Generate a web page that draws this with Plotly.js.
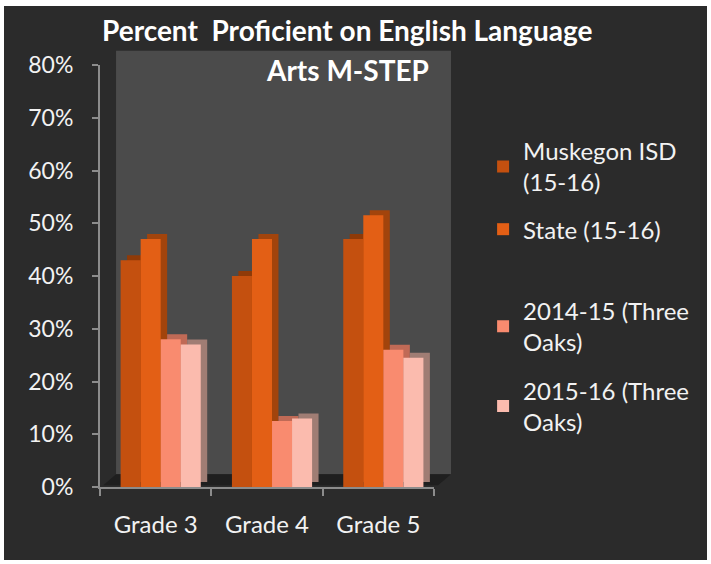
<!DOCTYPE html>
<html>
<head>
<meta charset="utf-8">
<script src="https://cdn.plot.ly/plotly-3.0.1.min.js"></script>
<style>
  html, body { margin: 0; padding: 0; background: #ffffff; }
  #chart { position: absolute; left: 4px; top: 6px; width: 703px; height: 554px; }
</style>
</head>
<body>
<div id="chart"></div>
<script>
// ---- data ----
const categories = ["Grade 3", "Grade 4", "Grade 5"];
const seriesNames = ["Muskegon ISD<br>(15-16)", "State (15-16)", "2014-15 (Three<br>Oaks)", "2015-16 (Three<br>Oaks)"];
const muskegon = [0.43, 0.40, 0.47];
const state = [0.47, 0.47, 0.515];
const threeOaks1415 = [0.28, 0.125, 0.26];
const threeOaks1516 = [0.27, 0.13, 0.245];
const yTickVals = [0, 0.1, 0.2, 0.3, 0.4, 0.5, 0.6, 0.7, 0.8];
const yTickText = ["0%", "10%", "20%", "30%", "40%", "50%", "60%", "70%", "80%"];

// ---- styling ----
const seriesValues = [muskegon, state, threeOaks1415, threeOaks1516];
const frontColors = ["#C4500F", "#E35F15", "#F98B6F", "#FBBBAE"];
const sideColors = ["#8F3A08", "#A2440C", "#C06A56", "#A07D74"];
const legendIds = ["legend", "legend2", "legend3", "legend4"];
const barWidth = 0.18;
const firstOffset = -0.315;
const depthDx = 0.058;   // in category units
const depthDy = 0.0095;  // in value units
const FONT = "Lato, 'Open Sans', sans-serif";

const traces = [];
// depth (side/top) faces drawn behind
seriesValues.forEach((vals, i) => {
  traces.push({
    type: "bar", x: categories, y: vals,
    base: vals.map(() => depthDy),
    offset: firstOffset + i * barWidth + depthDx, width: barWidth,
    marker: { color: sideColors[i], line: { width: 0 } },
    showlegend: false, hoverinfo: "skip"
  });
});
// front faces
seriesValues.forEach((vals, i) => {
  traces.push({
    type: "bar", x: categories, y: vals, name: seriesNames[i],
    offset: firstOffset + i * barWidth, width: barWidth,
    marker: { color: frontColors[i], line: { width: 0 } },
    legend: legendIds[i]
  });
});

const legendFont = { family: FONT, size: 24, color: "#F2F2F2" };
const legendYs = [0.759, 0.610, 0.380, 0.191];
const legendBase = { x: 1.147, xanchor: "left", yanchor: "middle", bgcolor: "rgba(0,0,0,0)", font: legendFont, itemwidth: 30 };

const layout = {
  width: 703, height: 554,
  paper_bgcolor: "#2B2B2B", plot_bgcolor: "#2B2B2B",
  margin: { l: 96, r: 273, t: 58.5, b: 73.3, pad: 0 },
  barmode: "overlay",
  showlegend: true,
  legend: Object.assign({}, legendBase, { y: legendYs[0] }),
  legend2: Object.assign({}, legendBase, { y: legendYs[1] }),
  legend3: Object.assign({}, legendBase, { y: legendYs[2] }),
  legend4: Object.assign({}, legendBase, { y: legendYs[3] }),
  xaxis: {
    type: "category", range: [-0.5, 2.5],
    showline: true, linecolor: "#8C8C8C", linewidth: 2,
    ticks: "outside", tickson: "boundaries", ticklen: 7, tickcolor: "#8C8C8C", tickwidth: 2,
    showgrid: false, zeroline: false,
    tickfont: { family: FONT, size: 24, color: "#F2F2F2" },
    ticklabelstandoff: 15
  },
  yaxis: {
    range: [0, 0.8], tickvals: yTickVals, ticktext: yTickText,
    showline: true, linecolor: "#8C8C8C", linewidth: 2,
    ticks: "outside", ticklen: 6, tickcolor: "#8C8C8C", tickwidth: 2,
    showgrid: false, zeroline: false,
    tickfont: { family: FONT, size: 23, color: "#F2F2F2" },
    ticklabelstandoff: 14
  },
  shapes: [
    { type: "rect", layer: "below", xref: "x domain", yref: "y domain",
      x0: 0.048, x1: 1.051, y0: 0.03, y1: 1.034,
      fillcolor: "#4B4B4B", line: { width: 0 } },
    { type: "path", layer: "below", xref: "x domain", yref: "y domain",
      path: "M 0.01 0.004 L 0.048 0.03 L 1.051 0.03 L 1.012 0.004 Z",
      fillcolor: "#1F1F1F", line: { width: 0 } }
  ],
  annotations: [
    { text: "<b>Percent  Proficient on English Language</b>", xref: "paper", yref: "paper",
      x: 0.74, y: 1.082, xanchor: "center", yanchor: "middle", showarrow: false,
      font: { family: FONT, size: 28, color: "#FFFFFF" } },
    { text: "<b>Arts M-STEP</b>", xref: "paper", yref: "paper",
      x: 0.74, y: 0.987, xanchor: "center", yanchor: "middle", showarrow: false,
      font: { family: FONT, size: 28, color: "#FFFFFF" } }
  ]
};

Plotly.newPlot("chart", traces, layout, { displayModeBar: false, staticPlot: true });
</script>
</body>
</html>
